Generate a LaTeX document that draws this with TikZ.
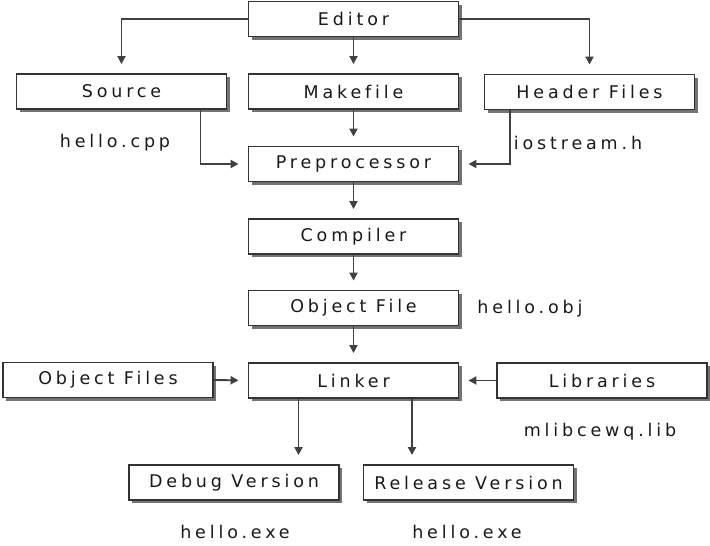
\documentclass[tikz,border=0pt]{standalone}
\usepackage{fontspec}
\setmainfont{DejaVu Sans}
\newfontfamily\boxfont[LetterSpace=22,Ligatures=NoCommon]{DejaVu Sans}
\usepackage{tikz}
\usetikzlibrary{arrows.meta,shadows}

\begin{document}
\begin{tikzpicture}[x=1pt,y=-1pt,font=\boxfont\fontsize{17.5}{20}\selectfont,text=black!90,
  stagebox/.style={draw=black!80,line width=1.9pt,fill=white,minimum width=210pt,minimum height=35pt,inner sep=0pt,
    drop shadow={shadow xshift=3pt,shadow yshift=-3pt,fill=black!55,opacity=1}},
  flow/.style={draw=black!75,line width=1.9pt,-{Triangle[width=8pt,length=8pt]},shorten >=9pt}]
\useasboundingbox (0,0) rectangle (710,546);
% boxes
\node[stagebox] (editor) at (353.5,19) {Editor};
\node[stagebox] (source) at (121.5,91.5) {Source};
\node[stagebox] (makefile) at (353.5,91.5) {Makefile};
\node[stagebox] (header) at (589.5,92) {Header Files};
\node[stagebox] (prep) at (353.5,164) {Preprocessor};
\node[stagebox] (compiler) at (353.5,236.5) {Compiler};
\node[stagebox] (objfile) at (353.5,308) {Object File};
\node[stagebox] (linker) at (353.5,380.5) {Linker};
\node[stagebox] (objfiles) at (108,380) {Object Files};
\node[stagebox] (libs) at (602,380.5) {Libraries};
\node[stagebox] (debug) at (234,482.5) {Debug Version};
\node[stagebox] (release) at (468.5,482.5) {Release Version};
% file names
\node (cpp) at (115,143) {hello.cpp};
\node (ioh) at (578,143) {iostream.h};
\node (obj) at (530,309) {hello.obj};
\node (lib) at (600,432) {mlibcewq.lib};
\node (dexe) at (235,532) {hello.exe};
\node (rexe) at (467,532) {hello.exe};
% arrows
\draw[flow] (editor.west) -| (source.north);
\draw[flow] (editor.east) -| (header.north);
\foreach \a/\b in {editor/makefile,makefile/prep,prep/compiler,compiler/objfile,objfile/linker}
  \draw[flow] (\a.south) -- (\b.north);
\draw[flow] ([xshift=-27pt]source.south east) |- (prep.west);
\draw[flow] ([xshift=26pt]header.south west) |- (prep.east);
\draw[flow] (objfiles.east) -- (linker.west);
\draw[flow] (libs.west) -- (linker.east);
\draw[flow] ([xshift=-55pt]linker.south) -- ([xshift=-55pt]linker.south |- debug.north);
\draw[flow] ([xshift=58.5pt]linker.south) -- ([xshift=58.5pt]linker.south |- release.north);
\end{tikzpicture}
\end{document}
